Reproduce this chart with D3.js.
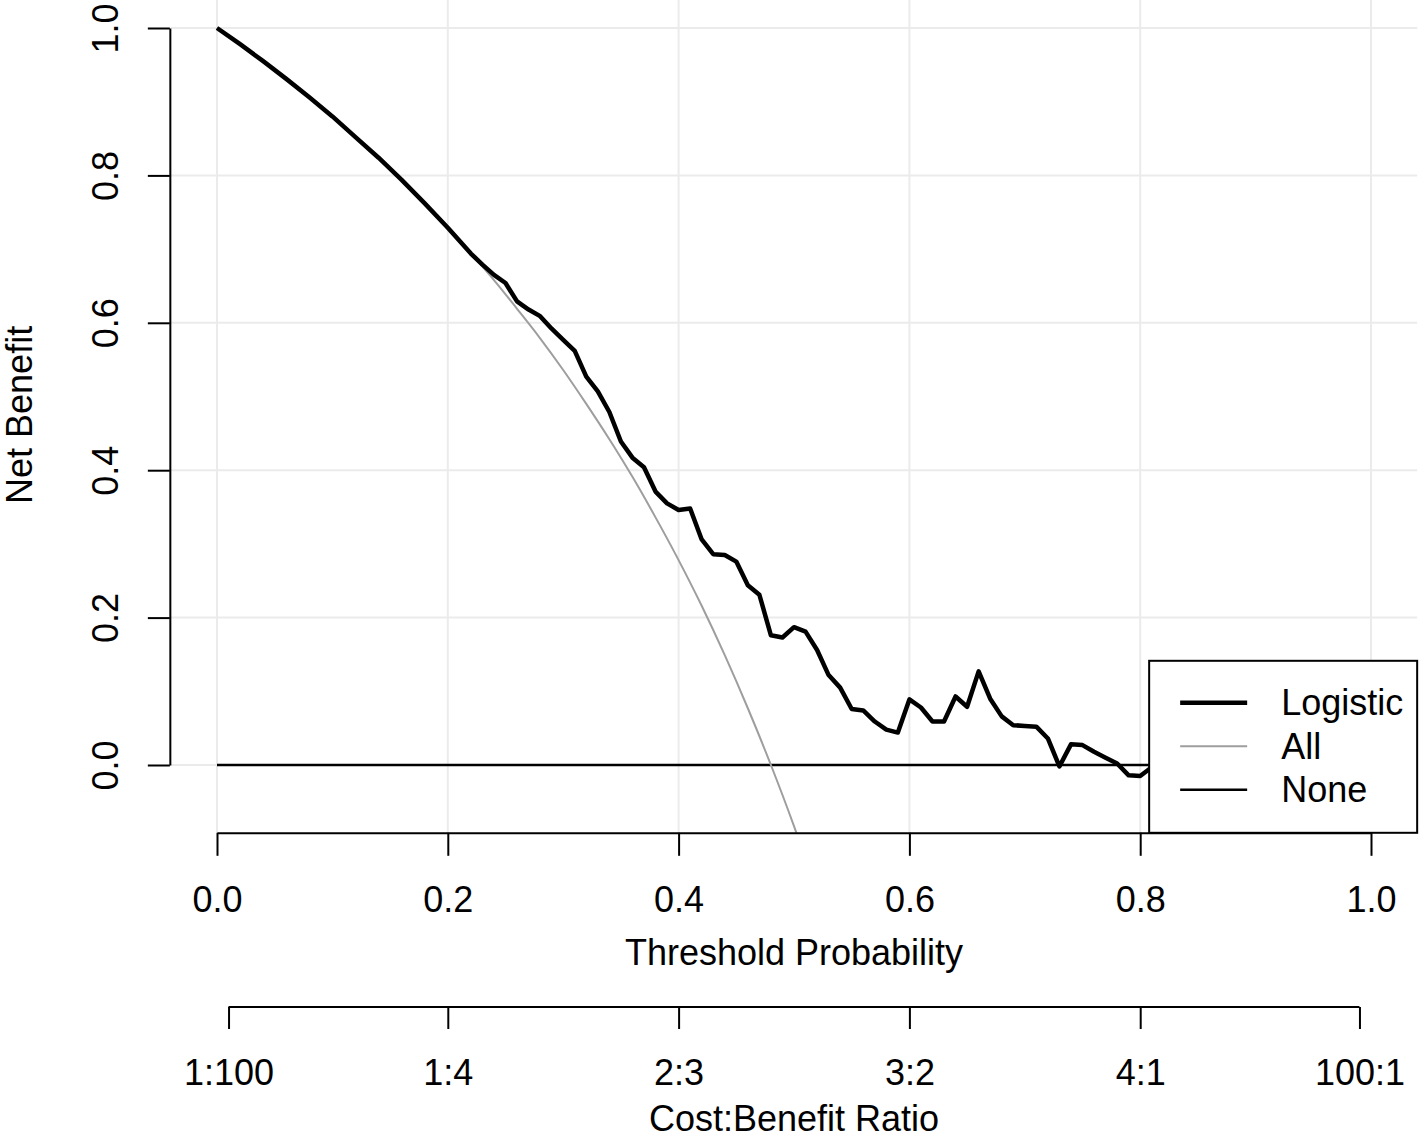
<!DOCTYPE html>
<html>
<head>
<meta charset="utf-8">
<script src="https://cdn.jsdelivr.net/npm/d3@7"></script>
<style>
  body { margin: 0; background: #fff; }
  svg text { font-family: "Liberation Sans", Arial, sans-serif; fill: #000; }
</style>
</head>
<body>
<script>
// threshold probabilities and net benefit
var allThreshold = [0, 0.02, 0.04, 0.06, 0.08, 0.10, 0.12, 0.14, 0.16, 0.18, 0.20, 0.22, 0.24,
	0.26, 0.28, 0.30, 0.32, 0.34, 0.36, 0.38, 0.40, 0.42, 0.44, 0.46, 0.48, 0.50, 0.52];
var allBenefit = [1.000, 0.978, 0.955, 0.931, 0.906, 0.880, 0.852, 0.824, 0.794, 0.762, 0.729, 0.694, 0.658,
	0.619, 0.579, 0.536, 0.490, 0.442, 0.391, 0.336, 0.278, 0.216, 0.149, 0.077, 0.000, -0.083, -0.174];

var logisticThreshold = [0, 0.02, 0.04, 0.06, 0.08, 0.10, 0.12, 0.14, 0.16, 0.18, 0.20, 0.22, 0.23,
	0.24, 0.25, 0.26, 0.27, 0.28, 0.29, 0.30, 0.31, 0.32, 0.33, 0.34, 0.35, 0.36, 0.37, 0.38, 0.39,
	0.40, 0.41, 0.42, 0.43, 0.44, 0.45, 0.46, 0.47, 0.48, 0.49, 0.50, 0.51, 0.52, 0.53, 0.54, 0.55,
	0.56, 0.57, 0.58, 0.59, 0.60, 0.61, 0.62, 0.63, 0.64, 0.65, 0.66, 0.67, 0.68, 0.69, 0.70, 0.71,
	0.72, 0.73, 0.74, 0.75, 0.76, 0.77, 0.78, 0.79, 0.80, 0.81, 0.82];
var logisticBenefit = [1.000, 0.978, 0.955, 0.931, 0.906, 0.880, 0.852, 0.824, 0.794, 0.762, 0.729, 0.694, 0.679,
	0.665, 0.654, 0.629, 0.618, 0.609, 0.592, 0.577, 0.562, 0.527, 0.507, 0.479, 0.439, 0.417, 0.404, 0.371, 0.355,
	0.346, 0.348, 0.306, 0.286, 0.285, 0.276, 0.244, 0.231, 0.176, 0.173, 0.187, 0.181, 0.156, 0.122, 0.105, 0.076,
	0.074, 0.059, 0.048, 0.044, 0.089, 0.078, 0.059, 0.059, 0.093, 0.079, 0.127, 0.090, 0.066, 0.054, 0.053, 0.052,
	0.036, -0.002, 0.028, 0.027, 0.018, 0.010, 0.002, -0.014, -0.015, -0.003, 0.000];

var noneThreshold = [0, 1];
var noneBenefit = [0, 0];

var xTicks = [0, 0.2, 0.4, 0.6, 0.8, 1.0];
var yTicks = [0, 0.2, 0.4, 0.6, 0.8, 1.0];
var ratioTicks = [0.01, 0.2, 0.4, 0.6, 0.8, 0.99];
var ratioLabels = ["1:100", "1:4", "2:3", "3:2", "4:1", "100:1"];

var legendNames = ["Logistic", "All", "None"];

var width = 1424, height = 1148, fontSize = 36;

// scales: data 0..1 on both axes, plot region padded like base R (4%)
var xScale = d3.scaleLinear().domain([0, 1]).range([217, 1371]);
var yScale = d3.scaleLinear().domain([0, 1]).range([765, 28]);

var plotLeft = xScale(-0.04), plotRight = xScale(1.04),
	plotTop = yScale(1.042), plotBottom = yScale(-0.092);

var svg = d3.select("body").append("svg")
	.attr("width", width)
	.attr("height", height);

svg.append("defs").append("clipPath").attr("id", "plotclip")
	.append("rect")
	.attr("x", plotLeft).attr("y", plotTop)
	.attr("width", plotRight - plotLeft).attr("height", plotBottom - plotTop);

// grid
var grid = svg.append("g").attr("stroke", "#ebebeb").attr("stroke-width", 2);
grid.selectAll("line.v").data(xTicks).enter().append("line")
	.attr("x1", d => xScale(d)).attr("x2", d => xScale(d))
	.attr("y1", plotTop).attr("y2", plotBottom);
grid.selectAll("line.h").data(yTicks).enter().append("line")
	.attr("x1", plotLeft).attr("x2", plotRight)
	.attr("y1", d => yScale(d)).attr("y2", d => yScale(d));

function toPoints(xs, ys) {
	return xs.map((x, i) => [x, ys[i]]);
}

var line = d3.line()
	.x(d => xScale(d[0]))
	.y(d => yScale(d[1]));

var curves = svg.append("g").attr("clip-path", "url(#plotclip)").attr("fill", "none");

curves.append("path")
	.datum(toPoints(noneThreshold, noneBenefit))
	.attr("d", line)
	.attr("stroke", "#000")
	.attr("stroke-width", 2.5);

curves.append("path")
	.datum(toPoints(allThreshold, allBenefit))
	.attr("d", line.curve(d3.curveMonotoneX))
	.attr("stroke", "#9e9e9e")
	.attr("stroke-width", 2);

line.curve(d3.curveLinear);
curves.append("path")
	.datum(toPoints(logisticThreshold, logisticBenefit))
	.attr("d", line)
	.attr("stroke", "#000")
	.attr("stroke-width", 4.5)
	.attr("stroke-linejoin", "round");

// axes
var xAxis = d3.axisBottom(xScale)
	.tickValues(xTicks)
	.tickFormat(d3.format(".1f"))
	.tickSize(23)
	.tickSizeOuter(0)
	.tickPadding(31);

svg.append("g")
	.attr("transform", "translate(0," + plotBottom + ")")
	.call(xAxis)
	.call(g => g.selectAll("path, line").attr("stroke", "#000").attr("stroke-width", 2))
	.call(g => g.selectAll("text").attr("font-size", fontSize));

var yAxis = d3.axisLeft(yScale)
	.tickValues(yTicks)
	.tickFormat(d3.format(".1f"))
	.tickSize(22)
	.tickSizeOuter(0);

svg.append("g")
	.attr("transform", "translate(" + (plotLeft - 1) + ",0)")
	.call(yAxis)
	.call(g => g.selectAll("path, line").attr("stroke", "#000").attr("stroke-width", 2))
	.call(g => g.selectAll("text")
		.attr("font-size", fontSize)
		.attr("x", 0).attr("y", -52).attr("dy", 0)
		.attr("text-anchor", "middle")
		.attr("transform", "rotate(-90)"));

// cost:benefit axis
var ratioY = 1007;
var ratioAxis = d3.axisBottom(xScale)
	.tickValues(ratioTicks)
	.tickFormat((d, i) => ratioLabels[i])
	.tickSize(22)
	.tickPadding(30);

svg.append("g")
	.attr("transform", "translate(0," + ratioY + ")")
	.call(ratioAxis)
	.call(g => g.select(".domain").remove())
	.call(g => g.selectAll("line").attr("stroke", "#000").attr("stroke-width", 2))
	.call(g => g.selectAll("text").attr("font-size", fontSize))
	.append("line")
	.attr("x1", xScale(ratioTicks[0])).attr("x2", xScale(ratioTicks[ratioTicks.length - 1]))
	.attr("y1", 0).attr("y2", 0)
	.attr("stroke", "#000").attr("stroke-width", 2);

// titles
var midX = (plotLeft + plotRight) / 2;
svg.append("text")
	.attr("x", midX).attr("y", 965)
	.attr("text-anchor", "middle").attr("font-size", fontSize)
	.text("Threshold Probability");

svg.append("text")
	.attr("x", midX).attr("y", 1131)
	.attr("text-anchor", "middle").attr("font-size", fontSize)
	.text("Cost:Benefit Ratio");

svg.append("text")
	.attr("transform", "translate(32," + ((plotTop + plotBottom) / 2) + ") rotate(-90)")
	.attr("text-anchor", "middle").attr("font-size", fontSize)
	.text("Net Benefit");

// legend, bottom right of plot region
var legendW = 268, legendH = 172;
var legend = svg.append("g")
	.attr("transform", "translate(" + (plotRight - legendW) + "," + (plotBottom - legendH) + ")");

legend.append("rect")
	.attr("width", legendW).attr("height", legendH)
	.attr("fill", "#fff").attr("stroke", "#000").attr("stroke-width", 2);

var legendStroke = [{c: "#000", w: 4.5}, {c: "#9e9e9e", w: 2}, {c: "#000", w: 2.5}];
var row = legend.selectAll("g.row").data(legendNames).enter().append("g")
	.attr("transform", (d, i) => "translate(0," + (42 + i * 43.5) + ")");

row.append("line")
	.attr("x1", 31).attr("x2", 98)
	.attr("stroke", (d, i) => legendStroke[i].c)
	.attr("stroke-width", (d, i) => legendStroke[i].w);

row.append("text")
	.attr("x", 132).attr("dy", "0.35em")
	.attr("font-size", fontSize)
	.text(d => d);
</script>
</body>
</html>
